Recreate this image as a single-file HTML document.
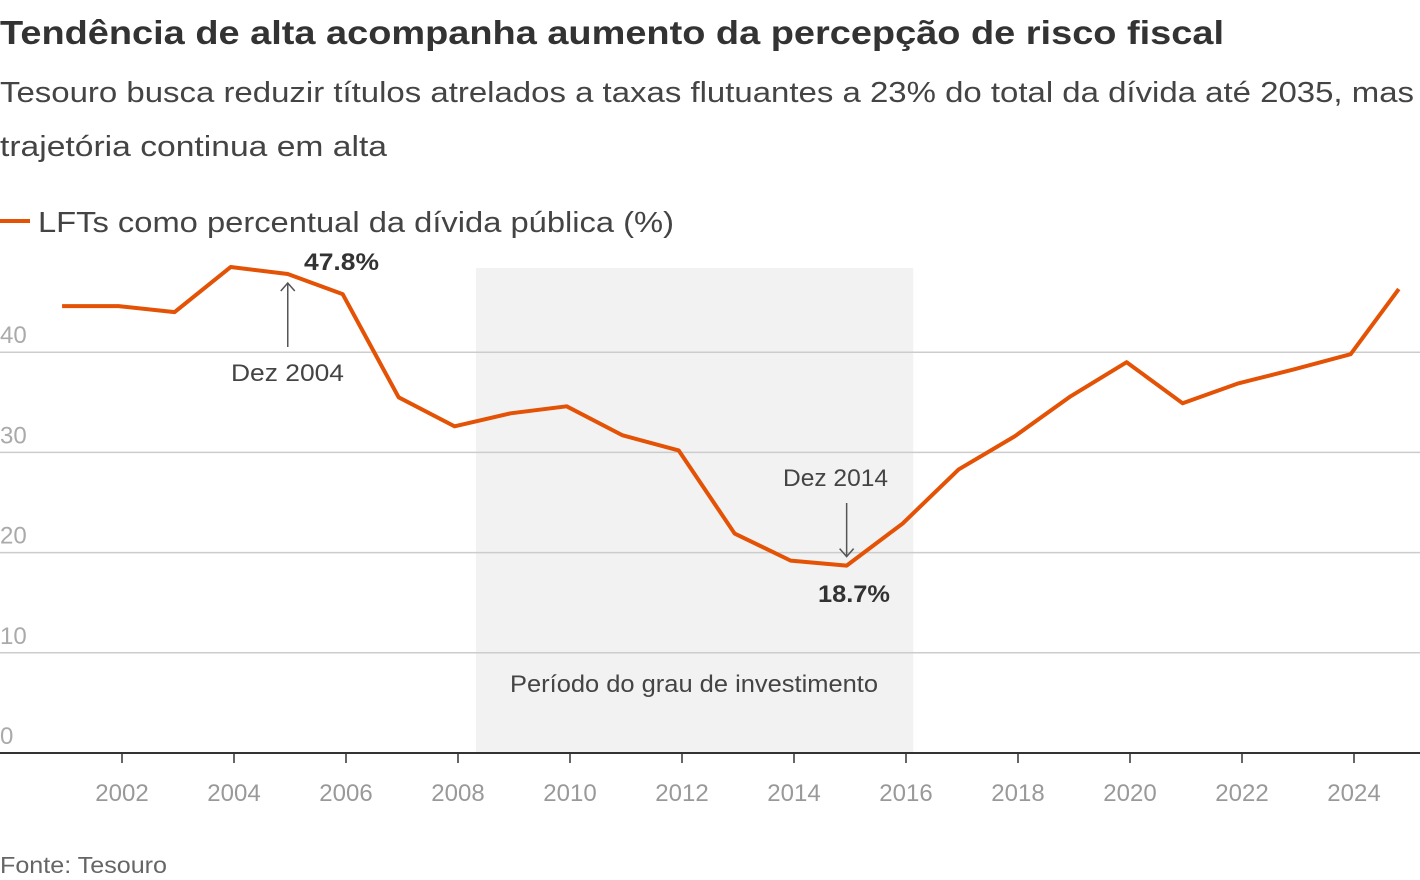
<!DOCTYPE html>
<html><head><meta charset="utf-8"><style>
body{margin:0;background:#fff;width:1420px;height:880px;overflow:hidden;font-family:"Liberation Sans",sans-serif}
svg{position:absolute;left:0;top:0}
</style></head><body>
<svg width="1420" height="880">
<text x="0" y="44" font-size="33" font-weight="bold" fill="#333" textLength="1224" lengthAdjust="spacingAndGlyphs">Tendência de alta acompanha aumento da percepção de risco fiscal</text>
<text x="0" y="102" font-size="29" fill="#444" textLength="1414" lengthAdjust="spacingAndGlyphs">Tesouro busca reduzir títulos atrelados a taxas flutuantes a 23% do total da dívida até 2035, mas</text>
<text x="0" y="156" font-size="29" fill="#444" textLength="387" lengthAdjust="spacingAndGlyphs">trajetória continua em alta</text>
<line x1="0" y1="221" x2="30" y2="221" stroke="#e35205" stroke-width="4"/>
<text x="38" y="232" font-size="29" fill="#444" textLength="636" lengthAdjust="spacingAndGlyphs">LFTs como percentual da dívida pública (%)</text>
<g id="plot"></g>
<text x="0" y="873" font-size="23" fill="#666" textLength="167" lengthAdjust="spacingAndGlyphs">Fonte: Tesouro</text>
</svg>
<script>
const dates=[2000.93,2001.94,2002.94,2003.94,2004.96,2005.94,2006.94,2007.94,2008.94,2009.94,2010.94,2011.94,2012.94,2013.94,2014.94,2015.94,2016.94,2017.94,2018.94,2019.94,2020.94,2021.94,2022.94,2023.94,2024.8];
const values=[44.6,44.6,44.0,48.5,47.8,45.8,35.5,32.6,33.9,34.6,31.7,30.2,21.9,19.2,18.7,22.9,28.3,31.6,35.6,39.0,34.9,36.9,38.3,39.8,46.3];
const yTicks=[0,10,20,30,40];
const xTicks=[2002,2004,2006,2008,2010,2012,2014,2016,2018,2020,2022,2024];
const shade=[2008.32,2016.13];
const x=v=>122+(v-2002)*56;
const y=v=>753-v*10.02;
const NS="http://www.w3.org/2000/svg";
const g=document.getElementById('plot');
function mk(t,a,txt){const e=document.createElementNS(NS,t);for(const k in a)e.setAttribute(k,a[k]);if(txt!=null)e.textContent=txt;g.appendChild(e);return e;}
let e=mk('rect',{x:x(shade[0]),y:268,width:x(shade[1])-x(shade[0]),height:753-268,fill:'#f2f2f2'});


e=mk('text',{x:510,y:692,'font-size':24,fill:'#444',textLength:368,lengthAdjust:'spacingAndGlyphs'},'Período do grau de investimento');


yTicks.forEach(t=>{
 if(t>0){e=mk('line',{x1:0,x2:1420,y1:y(t),y2:y(t),stroke:'#ccc','stroke-width':1.5});
 
 }
 e=mk('text',{x:0,y:y(t)-9,'font-size':24,fill:'#aaa'},String(t));
 
 
});
e=mk('line',{x1:0,x2:1420,y1:753,y2:753,stroke:'#333','stroke-width':2});


xTicks.forEach(t=>{
 e=mk('line',{x1:x(t),x2:x(t),y1:753,y2:763,stroke:'#333','stroke-width':1.5});
 
 
 e=mk('text',{x:x(t),y:801,'font-size':24,fill:'#999','text-anchor':'middle'},String(t));
 
 
});
e=mk('polyline',{points:dates.map((d,i)=>x(d)+','+y(values[i])).join(' '),fill:'none',stroke:'#e35205','stroke-width':4,'stroke-linejoin':'round'});


const i1=4,i2=14;
const ax1=x(dates[i1]),ay1=y(values[i1]);
e=mk('path',{d:`M${ax1},${ay1+9}V${347}M${ax1-7},${ay1+17}L${ax1},${ay1+9}L${ax1+7},${ay1+17}`,stroke:'#555','stroke-width':1.5,fill:'none'});


e=mk('text',{x:231,y:381,'font-size':24,fill:'#444',textLength:113,lengthAdjust:'spacingAndGlyphs'},'Dez 2004');


e=mk('text',{x:304,y:270,'font-size':24,'font-weight':'bold',fill:'#333',textLength:75,lengthAdjust:'spacingAndGlyphs'},values[i1].toFixed(1)+'%');


const ax2=x(dates[i2]),ay2=y(values[i2]);
e=mk('path',{d:`M${ax2},503V${ay2-9}M${ax2-7},${ay2-17}L${ax2},${ay2-9}L${ax2+7},${ay2-17}`,stroke:'#555','stroke-width':1.5,fill:'none'});


e=mk('text',{x:783,y:486,'font-size':24,fill:'#444',textLength:105,lengthAdjust:'spacingAndGlyphs'},'Dez 2014');


e=mk('text',{x:818,y:602,'font-size':24,'font-weight':'bold',fill:'#333',textLength:72,lengthAdjust:'spacingAndGlyphs'},values[i2].toFixed(1)+'%');


</script>
</body></html>
